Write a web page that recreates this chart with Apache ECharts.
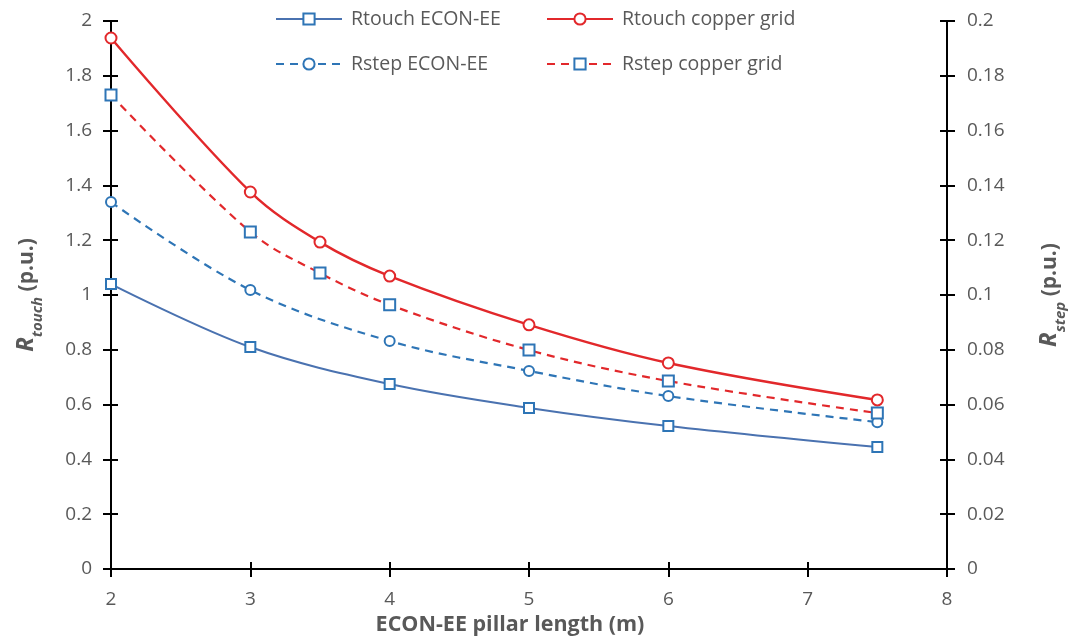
<!DOCTYPE html>
<html>
<head>
<meta charset="utf-8">
<script src="https://cdn.jsdelivr.net/npm/echarts@6/dist/echarts.min.js"></script>
<style>
html,body{margin:0;padding:0;background:#fff;}
#c{width:1070px;height:639px;}
</style>
</head>
<body>
<div id="c"></div>
<script>
// x positions (pillar length, m)
const xEcon = [2, 3, 4, 5, 6, 7.5];
const xCopper = [2, 3, 3.5, 4, 5, 6, 7.5];
// Rtouch (left axis, p.u.)
const rtouchEcon = [1.040, 0.810, 0.675, 0.588, 0.522, 0.445];
const rtouchCopper = [1.938, 1.376, 1.193, 1.069, 0.891, 0.752, 0.617];
// Rstep (right axis, p.u.)
const rstepEcon = [0.1339, 0.1018, 0.0832, 0.0723, 0.0631, 0.0536];
const rstepCopper = [0.1730, 0.1230, 0.1080, 0.0964, 0.0799, 0.0686, 0.0569];
// axis ranges
const xMin = 2, xMax = 8, xInterval = 1;
const yLeftMax = 2, yLeftInterval = 0.2;
const yRightMax = 0.2, yRightInterval = 0.02;

const FONT = 'Open Sans';
const GREY = '#595959';
const RED = '#E2282B';
const BLUE = '#2E75B6';
const BLUE_SOLID = '#4A72B0';

function pairs(xs, ys) { return xs.map((x, i) => [x, ys[i]]); }

const chart = echarts.init(document.getElementById('c'), null, {renderer: 'canvas'});

const axisLine = {show: true, onZero: false, lineStyle: {color: '#000', width: 2}};
const tickStyle = {color: '#000', width: 2};

const legendBase = {
  orient: 'horizontal', itemWidth: 66, itemHeight: 14, itemGap: 0, padding: 0,
  textStyle: {fontFamily: FONT, fontSize: 19.5, color: GREY, padding: [0, 0, 0, 4]},
  selectedMode: false
};

const nameRich = {
  r: {fontFamily: FONT, fontSize: 24, fontWeight: 'bold', fontStyle: 'italic', color: GREY, lineHeight: 28, verticalAlign: 'bottom'},
  s: {fontFamily: FONT, fontSize: 15, fontWeight: 'bold', fontStyle: 'italic', color: GREY, lineHeight: 28, verticalAlign: 'bottom', padding: [0, 0, -7, 0]},
  p: {fontFamily: FONT, fontSize: 21, fontWeight: 'bold', color: GREY, lineHeight: 28, verticalAlign: 'bottom'}
};

const option = {
  animation: false,
  backgroundColor: '#fff',
  grid: {left: 111, right: 123, top: 21, bottom: 70, containLabel: false, outerBoundsMode: 'none'},
  legend: [
    Object.assign({}, legendBase, {data: ['Rtouch ECON-EE'], left: 275, top: 9}),
    Object.assign({}, legendBase, {data: ['Rtouch copper grid'], left: 546, top: 9}),
    Object.assign({}, legendBase, {data: ['Rstep ECON-EE'], left: 275, top: 54}),
    Object.assign({}, legendBase, {data: ['Rstep copper grid'], left: 546, top: 54})
  ],
  xAxis: [
    {
      type: 'value', min: xMin, max: xMax, interval: xInterval, position: 'bottom',
      name: 'ECON-EE pillar length (m)', nameLocation: 'middle', nameGap: 44,
      nameTextStyle: {fontFamily: FONT, fontSize: 21.5, fontWeight: 'bold', color: GREY, padding: [0, 38, 0, 0]},
      axisLine: axisLine,
      axisTick: {show: true, inside: false, length: 8, lineStyle: tickStyle},
      axisLabel: {fontFamily: FONT, fontSize: 19, color: GREY, margin: 21},
      splitLine: {show: false}
    },
    {
      type: 'value', min: xMin, max: xMax, interval: xInterval, position: 'bottom', offset: 0,
      axisLine: {show: false},
      axisTick: {show: true, inside: true, length: 7, lineStyle: tickStyle},
      axisLabel: {show: false}, splitLine: {show: false}
    }
  ],
  yAxis: [
    {
      type: 'value', min: 0, max: yLeftMax, interval: yLeftInterval, position: 'left',
      name: '{r|R}{s|touch}{p| (p.u.)}', nameLocation: 'middle', nameRotate: 90, nameGap: 73,
      nameTextStyle: {rich: nameRich},
      axisLine: axisLine,
      axisTick: {show: true, inside: false, length: 8, lineStyle: tickStyle},
      axisLabel: {fontFamily: FONT, fontSize: 19, color: GREY, margin: 19},
      splitLine: {show: false}
    },
    {
      type: 'value', min: 0, max: yRightMax, interval: yRightInterval, position: 'right',
      name: '{r|R}{s|step}{p| (p.u.)}', nameLocation: 'middle', nameRotate: 90, nameGap: 86,
      nameTextStyle: {rich: nameRich},
      axisLine: axisLine,
      axisTick: {show: true, inside: false, length: 8, lineStyle: tickStyle},
      axisLabel: {fontFamily: FONT, fontSize: 19, color: GREY, margin: 20},
      splitLine: {show: false}
    },
    {
      type: 'value', min: 0, max: yLeftMax, interval: yLeftInterval, position: 'left', offset: 0,
      axisLine: {show: false},
      axisTick: {show: true, inside: true, length: 7, lineStyle: tickStyle},
      axisLabel: {show: false}, splitLine: {show: false}
    },
    {
      type: 'value', min: 0, max: yRightMax, interval: yRightInterval, position: 'right', offset: 0,
      axisLine: {show: false},
      axisTick: {show: true, inside: true, length: 7, lineStyle: tickStyle},
      axisLabel: {show: false}, splitLine: {show: false}
    }
  ],
  series: [
    {
      name: 'Rtouch ECON-EE', type: 'line', xAxisIndex: 0, yAxisIndex: 0, smooth: 0.35,
      data: pairs(xEcon, rtouchEcon),
      symbol: 'rect', symbolSize: 10,
      lineStyle: {color: BLUE_SOLID, width: 2, type: 'solid'},
      itemStyle: {color: '#fff', borderColor: BLUE, borderWidth: 2}
    },
    {
      name: 'Rtouch copper grid', type: 'line', xAxisIndex: 0, yAxisIndex: 0, smooth: 0.35,
      data: pairs(xCopper, rtouchCopper),
      symbol: 'circle', symbolSize: 11,
      lineStyle: {color: RED, width: 2.4, type: 'solid'},
      itemStyle: {color: '#fff', borderColor: RED, borderWidth: 2}
    },
    {
      name: 'Rstep ECON-EE', type: 'line', xAxisIndex: 0, yAxisIndex: 1, smooth: 0.35,
      data: pairs(xEcon, rstepEcon),
      symbol: 'circle', symbolSize: 10,
      lineStyle: {color: BLUE, width: 2.2, type: [8, 6]},
      itemStyle: {color: '#fff', borderColor: BLUE, borderWidth: 2}
    },
    {
      name: 'Rstep copper grid', type: 'line', xAxisIndex: 0, yAxisIndex: 1, smooth: 0.35,
      data: pairs(xCopper, rstepCopper),
      symbol: 'rect', symbolSize: 11,
      lineStyle: {color: RED, width: 2.2, type: [8, 6]},
      itemStyle: {color: '#fff', borderColor: BLUE, borderWidth: 2}
    }
  ]
};
chart.setOption(option);
</script>
</body>
</html>
